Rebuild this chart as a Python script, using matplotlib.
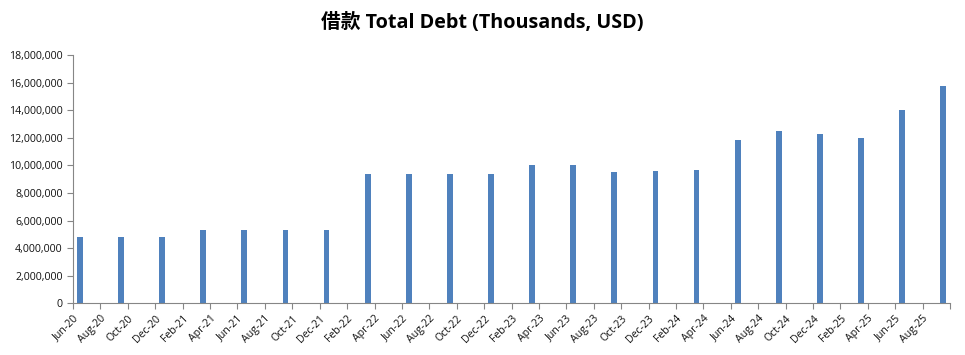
import numpy as np
import pandas as pd
from matplotlib import pyplot as plt

plt.rcParams['font.family'] = ['Open Sans', 'Noto Sans CJK SC', 'DejaVu Sans']

# quarter-end dates and total debt (thousands USD)
fechas = ['2020-06', '2020-09', '2020-12', '2021-03', '2021-06', '2021-09', '2021-12',
          '2022-03', '2022-06', '2022-09', '2022-12', '2023-03', '2023-06', '2023-09',
          '2023-12', '2024-03', '2024-06', '2024-09', '2024-12', '2025-03', '2025-06',
          '2025-09']
deuda = [4830000, 4830000, 4830000, 5310000, 5310000, 5310000, 5310000,
         9370000, 9370000, 9370000, 9370000, 10020000, 10020000, 9510000,
         9590000, 9660000, 11830000, 12490000, 12270000, 11980000, 14010000,
         15750000]

etiquetas = ['Jun-20', 'Aug-20', 'Oct-20', 'Dec-20', 'Feb-21', 'Apr-21', 'Jun-21', 'Aug-21',
             'Oct-21', 'Dec-21', 'Feb-22', 'Apr-22', 'Jun-22', 'Aug-22', 'Oct-22', 'Dec-22',
             'Feb-23', 'Apr-23', 'Jun-23', 'Aug-23', 'Oct-23', 'Dec-23', 'Feb-24', 'Apr-24',
             'Jun-24', 'Aug-24', 'Oct-24', 'Dec-24', 'Feb-25', 'Apr-25', 'Jun-25', 'Aug-25']

# month index counted from Jun-20 (one slot per month, like Excel's date axis)
inicio = pd.Period('2020-06', freq='M')
meses = np.array([(pd.Period(f, freq='M') - inicio).n for f in fechas])
n_meses = meses.max() + 1

fig = plt.figure(figsize=(9.65, 3.55), dpi=100)
ax = fig.add_axes([0.0757, 0.1456, 0.9088, 0.6994])
ax.bar(meses + 0.5, deuda, width=0.42, color='#4F81BD')

ax.set_xlim(0, n_meses)
ax.set_ylim(0, 18000000)
ax.set_yticks(np.arange(0, 18000001, 2000000))
ax.yaxis.set_major_formatter(plt.FuncFormatter(lambda v, p: f'{v:,.0f}'))

ax.set_xticks(np.arange(0, n_meses + 1, 2))
ax.set_xticklabels(etiquetas + [''], rotation=45, ha='right', rotation_mode='anchor')

for lado in ['top', 'right']:
  ax.spines[lado].set_visible(False)
for lado in ['left', 'bottom']:
  ax.spines[lado].set_color('#868686')
ax.tick_params(axis='both', colors='#868686', labelcolor='#111111', labelsize=7.6, length=4)
ax.tick_params(axis='x', pad=3)

fig.suptitle('借款 Total Debt (Thousands, USD)', x=0.5, y=0.965, fontsize=14.2,
             fontweight='bold', family=['Open Sans', 'Noto Sans CJK SC', 'DejaVu Sans'])

fig.savefig('out.png', dpi=100)
